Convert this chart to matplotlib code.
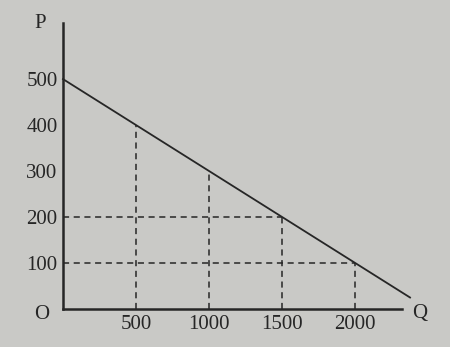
import matplotlib.pyplot as plt
import numpy as np

plt.rcParams['font.family'] = ['Liberation Serif', 'DejaVu Serif']

# 需求曲线 P = 500 - 0.2Q
q_line = [0, 2375]
p_line = [500, 25]

# 虚线标注的点
q_marks = [500, 1000, 1500, 2000]
p_marks = [400, 300, 200, 100]

x_ticks = [500, 1000, 1500, 2000]
y_ticks = [100, 200, 300, 400, 500]

bg = '#c9c9c6'
ink = '#262626'

fig = plt.figure(figsize=(4.5, 3.47), dpi=100, facecolor=bg)
ax = fig.add_axes([63 / 450, 38 / 347, 339 / 450, 286 / 347])
ax.set_facecolor(bg)
ax.set_xlim(0, 2320)
ax.set_ylim(0, 622)

for s in ['top', 'right']:
    ax.spines[s].set_visible(False)
for s in ['left', 'bottom']:
    ax.spines[s].set_color(ink)
    ax.spines[s].set_linewidth(1.8)

# 需求线
ax.plot(q_line, p_line, color=ink, lw=1.3, clip_on=False)

# 竖直虚线
for q, p in zip(q_marks, p_marks):
    ax.plot([q, q], [0, p], color=ink, lw=1.1, linestyle=(0, (4, 3)))
# 水平虚线 (200 和 100)
for q, p in zip(q_marks[2:], p_marks[2:]):
    ax.plot([0, q], [p, p], color=ink, lw=1.1, linestyle=(0, (4, 3)))

ax.set_xticks(x_ticks)
ax.set_xticklabels([str(v) for v in x_ticks])
ax.set_yticks(y_ticks)
ax.set_yticklabels([str(v) for v in y_ticks])
ax.tick_params(length=0, labelsize=15, colors=ink, pad=4)

ax.text(-0.05, 1.0, 'P', transform=ax.transAxes, fontsize=15, color=ink, ha='right', va='center')
ax.text(-0.04, -0.02, 'O', transform=ax.transAxes, fontsize=15, color=ink, ha='right', va='center')
ax.text(1.03, -0.015, 'Q', transform=ax.transAxes, fontsize=15, color=ink, ha='left', va='center')

fig.savefig('out.png', dpi=100, facecolor=bg)
